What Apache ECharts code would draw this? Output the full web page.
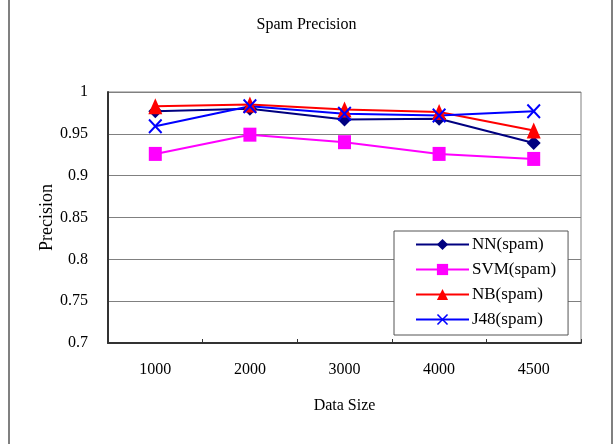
<!DOCTYPE html>
<html>
<head>
<meta charset="utf-8">
<script src="https://cdn.jsdelivr.net/npm/echarts@6/dist/echarts.min.js"></script>
<style>html,body{margin:0;padding:0;background:#fff}#c{width:613px;height:444px}</style>
</head>
<body>
<div id="c"></div>
<script>
const categories = ['1000', '2000', '3000', '4000', '4500'];
const nnSpam  = [0.977, 0.980, 0.967, 0.968, 0.939];
const svmSpam = [0.926, 0.949, 0.940, 0.926, 0.920];
const nbSpam  = [0.983, 0.985, 0.979, 0.976, 0.954];
const j48Spam = [0.959, 0.983, 0.974, 0.972, 0.977];
const seriesNames = ['NN(spam)', 'SVM(spam)', 'NB(spam)', 'J48(spam)'];

const font = 'Liberation Serif, Times New Roman, serif';
const xPath = 'path://M0,1L1,0L5,4L9,0L10,1L6,5L10,9L9,10L5,6L1,10L0,9L4,5Z';

function mk(name, data, color, symbol, size) {
  return {
    name, type: 'line', data, symbol, symbolSize: size,
    lineStyle: { color, width: 2 },
    itemStyle: { color },
    emphasis: { disabled: true },
    animation: false
  };
}

const chart = echarts.init(document.getElementById('c'), null, { renderer: 'canvas' });
chart.setOption({
  backgroundColor: '#fff',
  animation: false,
  title: {
    text: 'Spam Precision', left: 'center', top: 12,
    textStyle: { fontFamily: font, fontSize: 16, fontWeight: 'normal', color: '#000' }
  },
  grid: {
    left: 108, right: 32, top: 92, bottom: 101,
    show: true, borderColor: '#808080', borderWidth: 1, backgroundColor: '#fff'
  },
  legend: {
    orient: 'vertical', left: 394, top: 231,
    padding: [5, 12, 7, 21], itemGap: 8, itemWidth: 53, itemHeight: 14,
    backgroundColor: '#fff', borderColor: '#555', borderWidth: 1,
    textStyle: { fontFamily: font, fontSize: 17, color: '#000', padding: [0, 0, 0, -2] },
    data: seriesNames
  },
  xAxis: {
    type: 'category', data: categories, boundaryGap: true,
    name: 'Data Size', nameLocation: 'middle', nameGap: 55, nameMoveOverlap: false,
    nameTextStyle: { fontFamily: font, fontSize: 16, color: '#000' },
    axisLine: { lineStyle: { color: '#333', width: 2 } },
    axisTick: { show: true, inside: true, length: 4, lineStyle: { color: '#333' } },
    axisLabel: { fontFamily: font, fontSize: 16, color: '#000', margin: 19 },
    splitLine: { show: false }
  },
  yAxis: {
    type: 'value', min: 0.7, max: 1, interval: 0.05,
    name: 'Precision', nameLocation: 'middle', nameGap: 52, nameMoveOverlap: false,
    nameTextStyle: { fontFamily: font, fontSize: 18, color: '#000' },
    axisLine: { show: true, lineStyle: { color: '#333', width: 2 } },
    axisTick: { show: false },
    axisLabel: {
      fontFamily: font, fontSize: 16, color: '#000', margin: 20,
      formatter: v => String(Math.round(v * 100) / 100)
    },
    splitLine: { lineStyle: { color: '#808080', width: 1 } }
  },
  graphic: [
    { type: 'line', shape: { x1: 9, y1: 0, x2: 9, y2: 444 }, style: { stroke: '#808080', lineWidth: 2 } },
    { type: 'line', shape: { x1: 612, y1: 0, x2: 612, y2: 444 }, style: { stroke: '#808080', lineWidth: 2 } }
  ],
  series: [
    mk(seriesNames[0], nnSpam, '#000080', 'diamond', [14, 14]),
    mk(seriesNames[1], svmSpam, '#FF00FF', 'rect', [13, 14]),
    mk(seriesNames[2], nbSpam, '#FF0000', 'triangle', [14, 16]),
    mk(seriesNames[3], j48Spam, '#0000FF', xPath, [14, 15])
  ]
});
</script>
</body>
</html>
